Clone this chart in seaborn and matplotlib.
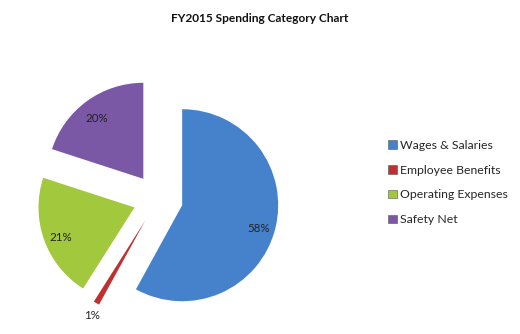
import numpy as np
import matplotlib
matplotlib.use("Agg")
import matplotlib.pyplot as plt
import seaborn as sns
from matplotlib.patches import Patch

sns.set_theme(style="white")
plt.rcParams['font.family'] = ['Lato', 'DejaVu Sans']

categories = ["Wages & Salaries", "Employee Benefits", "Operating Expenses", "Safety Net"]
values = [58, 1, 21, 20]
pct_labels = ["58%", "1%", "21%", "20%"]
colors = ["#4682CC", "#C0302E", "#A2C83E", "#7A58A6"]

fig = plt.figure(figsize=(5.2, 3.34), dpi=100)
ax = fig.add_axes([0, 0, 1, 1])

explode = [0.26] * len(values)
wedges, _ = ax.pie(values, colors=colors, startangle=90, counterclock=False,
                   explode=explode, radius=1.0,
                   wedgeprops=dict(edgecolor='none', linewidth=0))

R = 96.0
ax.set_aspect('auto')
ax.set_xlim(-158 / R, (520 - 158) / R)
ax.set_ylim(-(334 - 199) / R, 199 / R)
ax.axis('off')

pctd = [0.82, 1.1, 0.82, 0.82]
for w, lab, p in zip(wedges, pct_labels, pctd):
    th = np.deg2rad((w.theta1 + w.theta2) / 2)
    cx, cy = w.center
    ax.text(cx + p * np.cos(th), cy + p * np.sin(th) - 0.04, lab, ha='center', va='center',
            fontsize=8.3, color='#222222')

fig.text(0.5, 1 - 18 / 334, "FY2015 Spending Category Chart", ha='center', va='center',
         fontsize=8.6, fontweight='bold', color='#111111')

handles = [Patch(facecolor=c, edgecolor='#555555', linewidth=0.4) for c in colors]
leg = fig.legend(handles, categories, loc='upper left', bbox_to_anchor=(388 / 520, 1 - 140 / 334),
                 frameon=False, fontsize=8.8, handlelength=0.7, handleheight=0.7,
                 handletextpad=0.3, labelspacing=1.12, borderpad=0, borderaxespad=0)

fig.savefig("out.png", dpi=100)
